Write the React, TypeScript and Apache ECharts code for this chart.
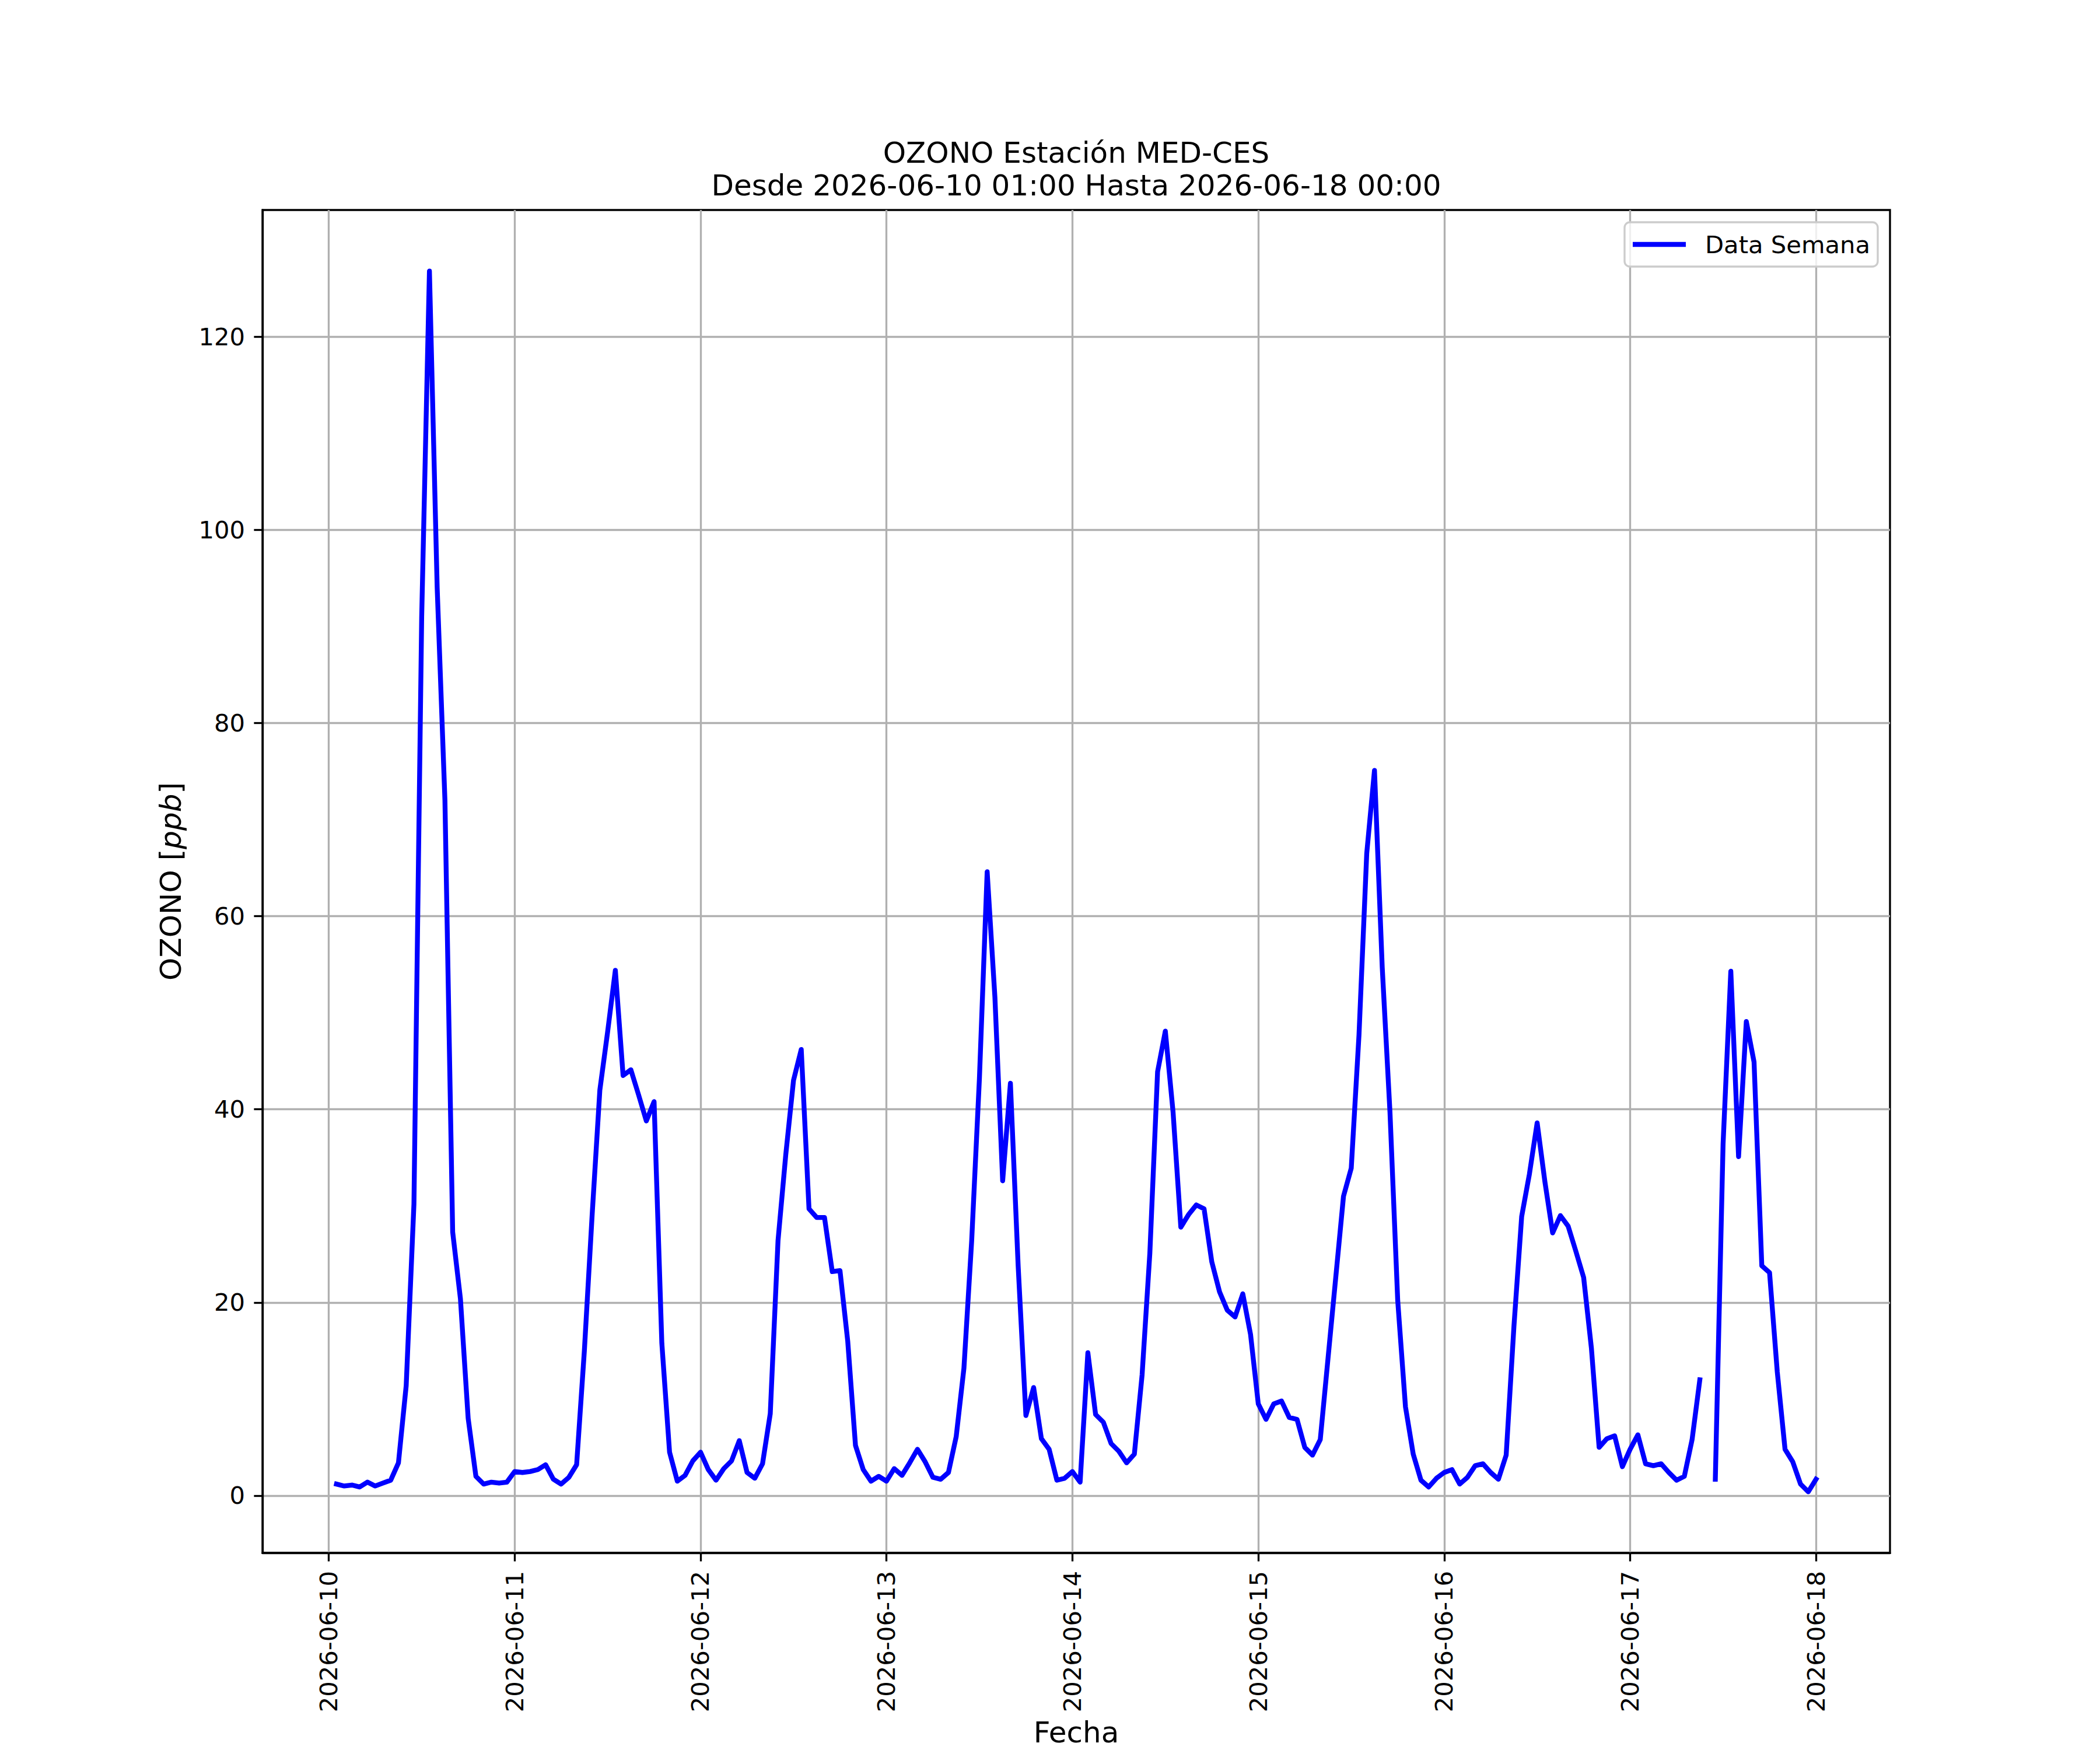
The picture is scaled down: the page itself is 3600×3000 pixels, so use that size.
import React, { useEffect, useRef } from "react";
import * as echarts from "echarts";

// Hourly OZONO values (ppb), each day list runs 01:00 .. 24:00 (= next day 00:00)
const ozone0610 = [1.2, 1.0, 1.1, 0.9, 1.4, 1.0, 1.3, 1.6, 3.4, 11.4, 30.2, 91.0, 126.8, 94.0, 72.0, 27.3, 20.4, 8.0, 2.0, 1.2, 1.4, 1.3, 1.4, 2.5];
const ozone0611 = [2.4, 2.5, 2.7, 3.2, 1.7, 1.2, 1.9, 3.2, 15.0, 29.0, 42.0, 48.0, 54.4, 43.5, 44.1, 41.5, 38.8, 40.8, 15.8, 4.5, 1.5, 2.1, 3.6, 4.5];
const ozone0612 = [2.7, 1.6, 2.8, 3.6, 5.7, 2.4, 1.8, 3.3, 8.5, 26.4, 35.3, 43.0, 46.2, 29.7, 28.8, 28.8, 23.2, 23.3, 16.0, 5.2, 2.7, 1.5, 2.0, 1.5];
const ozone0613 = [2.8, 2.1, 3.4, 4.8, 3.5, 1.9, 1.7, 2.4, 6.1, 13.2, 26.4, 43.2, 64.6, 51.6, 32.6, 42.7, 23.8, 8.3, 11.2, 5.9, 4.8, 1.6, 1.8, 2.5];
const ozone0614 = [1.4, 14.8, 8.4, 7.6, 5.4, 4.6, 3.4, 4.3, 12.5, 25.1, 43.9, 48.1, 39.7, 27.8, 29.1, 30.1, 29.7, 24.2, 21.1, 19.2, 18.5, 20.9, 16.7, 9.5];
const ozone0615 = [7.9, 9.5, 9.8, 8.1, 7.9, 5.0, 4.2, 5.8, 14.2, 22.6, 31.0, 33.9, 47.7, 66.5, 75.1, 54.7, 39.7, 20.2, 9.2, 4.3, 1.6, 0.9, 1.8, 2.4];
const ozone0616 = [2.7, 1.2, 1.9, 3.1, 3.3, 2.4, 1.7, 4.2, 17.5, 28.9, 33.3, 38.6, 32.5, 27.2, 29.0, 27.9, 25.3, 22.6, 15.3, 5.0, 5.9, 6.2, 3.0, 4.8];
const ozone0617 = [6.3, 3.3, 3.1, 3.3, 2.4, 1.6, 2.0, 5.8, 12.0, null, 1.7, 36.4, 54.3, 35.1, 49.1, 44.9, 23.8, 23.1, 12.8, 4.8, 3.5, 1.2, 0.4, 1.7];

const dateLabels = ["2026-06-10", "2026-06-11", "2026-06-12", "2026-06-13", "2026-06-14", "2026-06-15", "2026-06-16", "2026-06-17", "2026-06-18"];
const yTicks = [0, 20, 40, 60, 80, 100, 120];

const titleText = "OZONO Estación MED-CES\nDesde 2026-06-10 01:00 Hasta 2026-06-18 00:00";
const seriesName = "Data Semana";

const FONT = "DejaVu Sans";

export default function App() {
  const ref = useRef<HTMLDivElement>(null);

  useEffect(() => {
    if (!ref.current) return;
    const chart = echarts.init(ref.current, undefined, { renderer: "svg" });

    const values = [
      ...ozone0610, ...ozone0611, ...ozone0612, ...ozone0613,
      ...ozone0614, ...ozone0615, ...ozone0616, ...ozone0617,
    ];
    // hours since 2026-06-10 00:00, first sample at 01:00
    const data = values.map((v, i) => [i + 1, v]);
    const xs = data.map((d) => d[0] as number);
    const nums = values.filter((v) => v !== null) as number[];
    const x0 = Math.min(...xs), x1 = Math.max(...xs);
    const y0 = Math.min(...nums), y1 = Math.max(...nums);
    const xPad = (x1 - x0) * 0.05, yPad = (y1 - y0) * 0.05;
    const xTicks = dateLabels.map((_, i) => i * 24);

    const L = 450, R = 3240, T = 360, B = 2670;
    const lw = 3.33;
    const seriesLw = 8.33;

    chart.setOption({
      animation: false,
      backgroundColor: "#ffffff",
      title: {
        text: titleText,
        left: (L + R) / 2,
        top: 234,
        padding: 0,
        textAlign: "center",
        textStyle: { fontFamily: FONT, fontSize: 50, fontWeight: "normal", color: "#000", lineHeight: 56 },
      },
      legend: {
        right: 3600 - 3219,
        top: 381,
        orient: "horizontal",
        padding: [13, 13, 13, 14],
        itemWidth: 91,
        itemHeight: seriesLw,
        icon: "rect",
        backgroundColor: "rgba(255,255,255,0.8)",
        borderColor: "#cccccc",
        borderWidth: lw,
        borderRadius: 9,
        textStyle: { fontFamily: FONT, fontSize: 41.7, color: "#000", lineHeight: 50, padding: [0, 0, 0, 28] },
        data: [{ name: seriesName, icon: "rect", itemStyle: { color: "#0000ff" } }],
      },
      grid: {
        left: L, right: 3600 - R, top: T, bottom: 3000 - B,
        show: true, borderColor: "#000", borderWidth: lw, backgroundColor: "transparent",
        containLabel: false,
      },
      xAxis: {
        type: "value",
        min: x0 - xPad,
        max: x1 + xPad,
        name: "Fecha",
        nameLocation: "middle",
        nameGap: 283,
        nameTextStyle: { fontFamily: FONT, fontSize: 50, color: "#000" },
        axisLine: { show: true, onZero: false, lineStyle: { color: "#000", width: lw } },
        axisTick: { show: true, inside: false, length: 14.6, lineStyle: { color: "#000", width: lw }, customValues: xTicks },
        axisLabel: {
          customValues: xTicks,
          rotate: 90,
          margin: 31,
          fontFamily: FONT, fontSize: 41.7, color: "#000",
          formatter: (v: number) => dateLabels[Math.round(v / 24)] ?? "",
        },
        splitLine: { show: true, lineStyle: { color: "#b0b0b0", width: lw } },
      },
      yAxis: {
        type: "value",
        min: y0 - yPad,
        max: y1 + yPad,
        name: "OZONO [{i|ppb}]",
        nameLocation: "middle",
        nameGap: 132,
        nameRotate: 90,
        nameTextStyle: {
          fontFamily: FONT, fontSize: 50, color: "#000",
          rich: { i: { fontFamily: FONT, fontSize: 50, fontStyle: "italic", color: "#000" } },
        },
        axisLine: { show: true, onZero: false, lineStyle: { color: "#000", width: lw } },
        axisTick: { show: true, inside: false, length: 14.6, lineStyle: { color: "#000", width: lw }, customValues: yTicks },
        axisLabel: { customValues: yTicks, margin: 30, fontFamily: FONT, fontSize: 41.7, color: "#000" },
        splitLine: { show: true, lineStyle: { color: "#b0b0b0", width: lw } },
      },
      series: [
        {
          name: seriesName,
          type: "line",
          data,
          showSymbol: false,
          symbol: "none",
          connectNulls: false,
          color: "#0000ff",
          itemStyle: { color: "#0000ff" },
          lineStyle: { color: "#0000ff", width: seriesLw, cap: "square", join: "round" },
          clip: true,
        },
      ],
    });

    return () => chart.dispose();
  }, []);

  return <div ref={ref} style={{ position: "absolute", left: 0, top: 0, width: 3600, height: 3000 }} />;
}
